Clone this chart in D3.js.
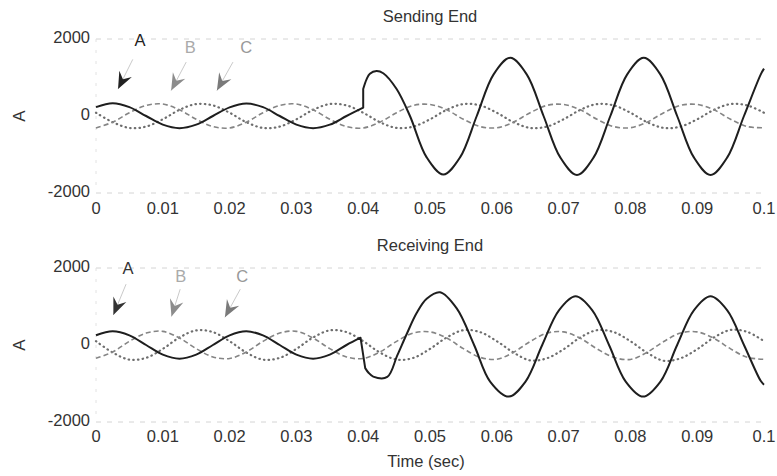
<!DOCTYPE html>
<html>
<head>
<meta charset="utf-8">
<script src="https://cdn.jsdelivr.net/npm/d3@7/dist/d3.min.js"></script>
<style>
  body { margin: 0; background: #fff; }
  text { font-family: "Liberation Sans", Arial, sans-serif; }
</style>
</head>
<body>
<svg id="chart"></svg>
<script>
// sample times (s) for phases B and C
const sampleT = [0, 0.0025, 0.005, 0.0075, 0.01, 0.0125, 0.015, 0.0175, 0.02, 0.0225,
  0.025, 0.0275, 0.03, 0.0325, 0.035, 0.0375, 0.04, 0.0425, 0.045, 0.0475,
  0.05, 0.0525, 0.055, 0.0575, 0.06, 0.0625, 0.065, 0.0675, 0.07, 0.0725,
  0.075, 0.0775, 0.08, 0.0825, 0.085, 0.0875, 0.09, 0.0925, 0.095, 0.0975, 0.1];

// Sending end, phase A (fault at 0.04 s)
const sendA_t = [0, 0.0025, 0.005, 0.0075, 0.01, 0.0125, 0.015, 0.0175, 0.02, 0.0225,
  0.025, 0.0275, 0.03, 0.0325, 0.035, 0.0375, 0.04,
  0.04, 0.0405, 0.041, 0.042, 0.043, 0.045, 0.047,
  0.0495, 0.052, 0.0545, 0.057, 0.0595, 0.062, 0.0645, 0.067, 0.0695, 0.072,
  0.0745, 0.077, 0.0795, 0.082, 0.0845, 0.087, 0.0895, 0.092, 0.0945, 0.097, 0.0995, 0.1];
const sendA = [230, 330, 230, 0, -225, -315, -225, 0, 225, 325,
  230, 0, -225, -315, -225, 0, 215,
  700, 950, 1100, 1170, 1110, 700, 0,
  -1075, -1520, -1075, 0, 1075, 1510, 1075, 0, -1075, -1530,
  -1075, 0, 1075, 1510, 1075, 0, -1075, -1530, -1075, 0, 1075, 1230];
const sendB = [-310, -160, 85, 275, 310, 160, -85, -275, -310, -160,
  85, 275, 310, 160, -85, -275, -310, -160, 85, 275,
  300, 160, -85, -275, -305, -160, 85, 275, 300, 160,
  -85, -275, -305, -160, 85, 275, 300, 160, -85, -275, -305];
const sendC = [85, -160, -310, -275, -85, 160, 310, 275, 85, -160,
  -310, -275, -85, 160, 310, 275, 85, -160, -310, -275,
  -85, 160, 310, 275, 85, -160, -310, -275, -85, 160,
  310, 275, 85, -160, -310, -275, -85, 160, 310, 275, 85];

// Receiving end, phase A
const recvA_t = [0, 0.0025, 0.005, 0.0075, 0.01, 0.0125, 0.015, 0.0175, 0.02, 0.0225,
  0.025, 0.0275, 0.03, 0.0325, 0.035, 0.0375, 0.0396,
  0.0403, 0.0408, 0.0415, 0.0436, 0.0451, 0.0465, 0.048, 0.0495, 0.0515,
  0.054, 0.0566, 0.059, 0.0618, 0.0643, 0.0668, 0.0693, 0.0718, 0.0743, 0.0768,
  0.0793, 0.0819, 0.0845, 0.087, 0.0895, 0.092, 0.0945, 0.097, 0.0995, 0.1];
const recvA = [255, 355, 250, 0, -250, -355, -250, 0, 250, 355,
  250, 0, -250, -355, -250, 0, 190,
  -600, -720, -820, -830, -270, 280, 830, 1200, 1370,
  950, 0, -950, -1340, -950, 0, 900, 1265, 900, 0,
  -950, -1340, -950, 0, 900, 1265, 900, 0, -930, -1030];
const recvB = [-345, -180, 95, 310, 355, 180, -95, -310, -350, -180,
  95, 310, 355, 180, -95, -310, -350, -180, 95, 310,
  340, 180, -95, -320, -370, -190, 90, 310, 340, 175,
  -100, -320, -375, -190, 90, 310, 340, 175, -100, -320, -370];
const recvC = [100, -195, -380, -335, -100, 195, 380, 335, 100, -195,
  -380, -335, -100, 195, 380, 335, 100, -195, -380, -335,
  -100, 195, 385, 335, 100, -195, -400, -345, -110, 195, 385,
  335, 100, -200, -410, -345, -110, 195, 390, 340, 100];

const xTicks = [0, 0.01, 0.02, 0.03, 0.04, 0.05, 0.06, 0.07, 0.08, 0.09, 0.1];
const xTickLabels = ["0", "0.01", "0.02", "0.03", "0.04", "0.05", "0.06", "0.07", "0.08", "0.09", "0.1"];
const yTicks = [-2000, 0, 2000];
const phaseNames = ["A", "B", "C"];

const W = 777, H = 476;
const svg = d3.select("#chart").attr("width", W).attr("height", H);

const x = d3.scaleLinear().domain([0, 0.1]).range([96, 764]);

const panels = [
  { title: "Sending End", top: 39, bottom: 193, titleY: 18, tickY: 210,
    a: [sendA_t, sendA], brk: 16, b: sendB, c: sendC,
    // label position and arrow (from -> tip), in data coords
    notes: [
      { t: 0.0066, v: 1920, f: [0.0055, 1470], p: [0.0033, 700], col: "#222", txt: "#222" },
      { t: 0.0141, v: 1750, f: [0.0135, 1400], p: [0.01125, 660], col: "#8c8c8c", txt: "#aaa" },
      { t: 0.0225, v: 1750, f: [0.0205, 1400], p: [0.0181, 660], col: "#7a7a7a", txt: "#999" }
    ] },
  { title: "Receiving End", top: 268, bottom: 422, titleY: 247, tickY: 438,
    a: [recvA_t, recvA], brk: 16, b: recvB, c: recvC,
    notes: [
      { t: 0.0048, v: 1950, f: [0.0045, 1580], p: [0.0026, 780], col: "#333", txt: "#333" },
      { t: 0.0127, v: 1760, f: [0.0126, 1450], p: [0.0113, 740], col: "#8c8c8c", txt: "#aaa" },
      { t: 0.0219, v: 1760, f: [0.0216, 1450], p: [0.0193, 720], col: "#7a7a7a", txt: "#999" }
    ] }
];

function arrowHead(x0, y0, x1, y1) {
  // notched arrow head ending at (x1, y1)
  const ang = Math.atan2(y1 - y0, x1 - x0);
  const L = 17, w = 7, n = 11;
  const ux = Math.cos(ang), uy = Math.sin(ang);
  const px = -uy, py = ux;
  const bx = x1 - ux * L, by = y1 - uy * L;
  const nx = x1 - ux * n, ny = y1 - uy * n;
  return `M${x1},${y1}L${bx + px * w},${by + py * w}L${nx},${ny}L${bx - px * w},${by - py * w}Z`;
}

panels.forEach(p => {
  const y = d3.scaleLinear().domain([-2000, 2000]).range([p.bottom, p.top]);
  const g = svg.append("g");

  // faint frame lines from the original plot
  g.append("line").attr("x1", x(0)).attr("x2", x(0.1))
    .attr("y1", y(2000)).attr("y2", y(2000))
    .attr("stroke", "#d4d4d4").attr("stroke-dasharray", "5,6");
  g.append("line").attr("x1", x(0)).attr("x2", x(0.1))
    .attr("y1", y(-2000)).attr("y2", y(-2000))
    .attr("stroke", "#d4d4d4").attr("stroke-dasharray", "5,6");
  g.append("line").attr("x1", x(0)).attr("x2", x(0))
    .attr("y1", y(2000)).attr("y2", y(-2000))
    .attr("stroke", "#e2e2e2").attr("stroke-dasharray", "3,8");

  const line = d3.line()
    .x(d => x(d[0])).y(d => y(d[1]))
    .curve(d3.curveCatmullRom.alpha(0.5));

  // phase C dotted
  g.append("path")
    .datum(sampleT.map((t, i) => [t, p.c[i]]))
    .attr("d", line).attr("fill", "none")
    .attr("stroke", "#6e6e6e").attr("stroke-width", 2.2)
    .attr("stroke-linecap", "round").attr("stroke-dasharray", "0.5,4.2");

  // phase B dashed
  g.append("path")
    .datum(sampleT.map((t, i) => [t, p.b[i]]))
    .attr("d", line).attr("fill", "none")
    .attr("stroke", "#858585").attr("stroke-width", 1.6)
    .attr("stroke-dasharray", "5,3");

  // phase A solid: pre-fault and post-fault pieces joined at the break
  const pts = p.a[0].map((t, i) => [t, p.a[1][i]]);
  const pre = pts.slice(0, p.brk + 1);
  const post = pts.slice(p.brk + 1);
  const aPath = line(pre) + "L" + line(post).slice(1);
  g.append("path")
    .attr("d", aPath).attr("fill", "none")
    .attr("stroke", "#1e1e1e").attr("stroke-width", 2)
    .attr("stroke-linejoin", "round");

  // x tick labels
  g.selectAll("text.xt").data(xTicks).enter().append("text")
    .attr("class", "xt")
    .attr("x", d => x(d)).attr("y", p.tickY)
    .attr("text-anchor", "middle").attr("dominant-baseline", "middle")
    .attr("font-size", 16.5).attr("fill", "#333")
    .text((d, i) => xTickLabels[i]);

  // y tick labels
  g.selectAll("text.yt").data(yTicks).enter().append("text")
    .attr("class", "yt")
    .attr("x", 90).attr("y", d => y(d))
    .attr("text-anchor", "end").attr("dominant-baseline", "middle")
    .attr("font-size", 16.5).attr("fill", "#333")
    .text(d => d);

  // y axis label
  g.append("text")
    .attr("transform", `translate(21,${y(0)}) rotate(-90)`)
    .attr("text-anchor", "middle").attr("dominant-baseline", "middle")
    .attr("font-size", 17).attr("fill", "#333")
    .text("A");

  // title
  g.append("text")
    .attr("x", (x(0) + x(0.1)) / 2).attr("y", p.titleY)
    .attr("text-anchor", "middle").attr("dominant-baseline", "middle")
    .attr("font-size", 16.5).attr("fill", "#333")
    .text(p.title);

  // phase labels + arrows
  p.notes.forEach((n, i) => {
    g.append("text")
      .attr("x", x(n.t)).attr("y", y(n.v))
      .attr("text-anchor", "middle").attr("dominant-baseline", "middle")
      .attr("font-size", 16.5).attr("fill", n.txt)
      .text(phaseNames[i]);
    const x0 = x(n.f[0]), y0 = y(n.f[1]), x1 = x(n.p[0]), y1 = y(n.p[1]);
    g.append("line")
      .attr("x1", x0).attr("y1", y0).attr("x2", x1).attr("y2", y1)
      .attr("stroke", "#bbb").attr("stroke-width", 0.8);
    g.append("path")
      .attr("d", arrowHead(x0, y0, x1, y1))
      .attr("fill", n.col);
  });
});

svg.append("text")
  .attr("x", 426).attr("y", 463)
  .attr("text-anchor", "middle").attr("dominant-baseline", "middle")
  .attr("font-size", 16.5).attr("fill", "#333")
  .text("Time (sec)");
</script>
</body>
</html>
